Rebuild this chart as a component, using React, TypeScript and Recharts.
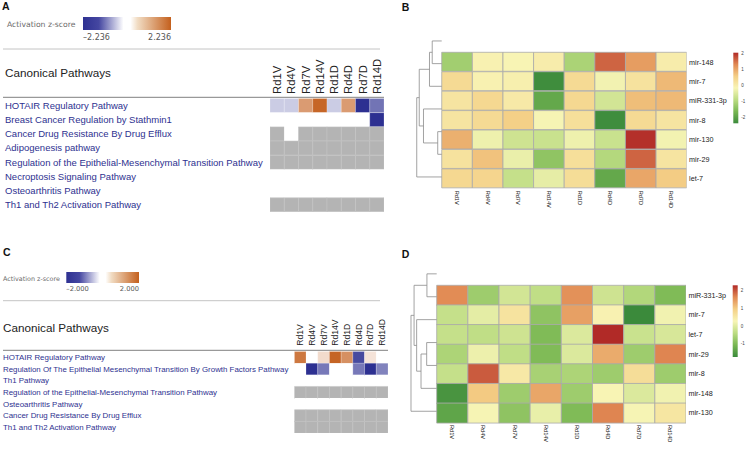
import React from "react";
import { BarChart, Bar, XAxis, YAxis, Cell, ReferenceLine } from "recharts";

const samples = ["Rd1V", "Rd4V", "Rd7V", "Rd14V", "Rd1D", "Rd4D", "Rd7D", "Rd14D"];
const sampleTicks = [0.5, 1.5, 2.5, 3.5, 4.5, 5.5, 6.5, 7.5];

// IPA panels: number = activation z-score, null = not significant, NA = no activity pattern (grey)
const NA = "NA";

const aPathways = [
  "HOTAIR Regulatory Pathway",
  "Breast Cancer Regulation by Stathmin1",
  "Cancer Drug Resistance By Drug Efflux",
  "Adipogenesis pathway",
  "Regulation of the Epithelial-Mesenchymal Transition Pathway",
  "Necroptosis Signaling Pathway",
  "Osteoarthritis Pathway",
  "Th1 and Th2 Activation Pathway",
];
const aZ = [
  [-0.55, -0.55, 1.4, 2.15, -0.55, 1.4, -2.236, -1.5],
  [null, null, null, null, null, null, null, -2.236],
  [NA, null, NA, NA, NA, NA, NA, NA],
  [NA, NA, NA, NA, NA, NA, NA, NA],
  [NA, NA, NA, NA, NA, NA, NA, NA],
  [null, null, null, null, null, null, null, null],
  [null, null, null, null, null, null, null, null],
  [NA, NA, NA, NA, NA, NA, NA, NA],
];

const cPathways = [
  "HOTAIR Regulatory Pathway",
  "Regulation Of The Epithelial Mesenchymal Transition By Growth Factors Pathway",
  "Th1 Pathway",
  "Regulation of the Epithelial-Mesenchymal Transition Pathway",
  "Osteoarthritis Pathway",
  "Cancer Drug Resistance By Drug Efflux",
  "Th1 and Th2 Activation Pathway",
];
const cZ = [
  [1.7, null, 0.45, 1.95, 1.4, -1.75, 0.35, null],
  [null, -2.0, -1.3, null, null, -1.3, -2.0, -1.2],
  [null, null, null, null, null, null, null, null],
  [NA, NA, NA, NA, NA, NA, NA, NA],
  [null, null, null, null, null, null, null, null],
  [NA, NA, NA, NA, NA, NA, NA, NA],
  [NA, NA, NA, NA, NA, NA, NA, NA],
];

// miRNA heatmaps (scaled expression); tree = [child, child, merge height], merge k gets id rows + k
const bMirs = ["mir-148", "mir-7", "miR-331-3p", "mir-8", "mir-130", "mir-29", "let-7"];
const bExpr = [
  [-1.2, -0.1, -0.15, 0.0, -1.1, 1.6, 1.1, 0.0],
  [0.35, -0.1, -0.05, -2.35, 0.35, -0.25, 0.2, 0.8],
  [0.15, 0.4, 0.05, -1.9, 0.4, -0.65, 0.75, 0.8],
  [0.15, 0.35, 0.55, -0.2, 0.25, -2.35, 0.35, 0.15],
  [0.9, -0.3, -0.7, -0.75, -0.3, -0.75, 2.0, -0.25],
  [0.2, 0.7, -0.35, -1.4, 0.25, -1.0, 1.6, 0.15],
  [0.4, 0.45, -0.8, -0.4, 0.3, -1.9, 1.0, 0.6],
];
const bTree = [[1, 2, 0.16], [7, 3, 0.73], [5, 6, 0.38], [4, 9, 0.49], [8, 10, 0.9], [0, 11, 1]];

const dMirs = ["miR-331-3p", "mir-7", "let-7", "mir-29", "mir-8", "mir-148", "mir-130"];
const dExpr = [
  [1.6, -0.7, -0.15, -0.35, 1.55, -0.2, -0.5, -1.0],
  [-0.3, 0.05, 0.6, -0.85, 1.4, 0.35, -1.75, 0.2],
  [-0.3, -0.35, -0.2, -1.0, -0.05, 2.3, -0.25, -0.1],
  [-0.55, 0.15, -0.35, -1.0, -0.05, 1.3, -0.7, 1.65],
  [-0.3, 1.95, 0.5, -0.6, -0.55, -0.7, 0.7, -0.7],
  [-1.6, 1.0, -0.7, 1.35, -0.7, 0.3, -0.05, 0.2],
  [-1.35, 0.25, -0.85, 0.1, -1.0, 1.65, 0.25, 0.55],
];
const dTree = [[2, 3, 0.39], [1, 7, 0.61], [8, 4, 0.78], [5, 6, 0.38], [9, 10, 0.88], [0, 11, 1]];

const heatStops = ["#3b8a3b", "#78b752", "#bcdc82", "#f8f5b6", "#f4cf86", "#e18953", "#b12a27"];
const ipaStops: [number, string][] = [
  [0, "#2e3192"], [0.18, "#4547a1"], [0.46, "#ffffff"], [0.54, "#ffffff"], [0.62, "#f1dcc3"], [1, "#c4601d"],
];

const LABEL_BLUE = "#2e3190";
const SANS = "'Liberation Sans', Arial, sans-serif";
const WIDE = "'DejaVu Sans', Verdana, sans-serif";

function rgb(h: string) {
  return [1, 3, 5].map((i) => parseInt(h.slice(i, i + 2), 16));
}
function mix(a: number[], b: number[], t: number) {
  const c = a.map((v, i) => Math.round(v + (b[i] - v) * t));
  return `rgb(${c[0]},${c[1]},${c[2]})`;
}
function heatColor(v: number, lo: number, hi: number) {
  const t = Math.max(0, Math.min(1, (v - lo) / (hi - lo))) * (heatStops.length - 1);
  const i = Math.min(heatStops.length - 2, Math.floor(t));
  return mix(rgb(heatStops[i]), rgb(heatStops[i + 1]), t - i);
}
function ipaColor(v: any, max: number) {
  if (v === null) return "#ffffff";
  if (v === NA) return "#b4b4b4";
  const t = Math.min(1, Math.abs(v) / max);
  return mix([255, 255, 255], v < 0 ? [45, 48, 145] : [196, 96, 30], t);
}

function gridRows(names: string[]) {
  return names.map((name) => {
    const row: any = { name };
    samples.forEach((s) => (row[s] = 1));
    return row;
  });
}

function ColLabel({ x, y, payload, size, angle }: any) {
  return (
    <text x={x} y={y} dy="0.35em" transform={`rotate(${angle} ${x} ${y})`} textAnchor="start"
      fontSize={size} fill="#222" fontFamily={SANS}>
      {samples[Math.floor(payload.value)]}
    </text>
  );
}

function PathLabel({ y, payload, left, size }: any) {
  return (
    <text x={left} y={y} dy="0.35em" fontSize={size} fill={LABEL_BLUE} fontFamily={SANS}>
      {payload.value}
    </text>
  );
}

function IpaHeatmap({ pathways, scores, max, width, height, top, labelWidth, labelLeft, labelSize, colSize, colMargin }: any) {
  return (
    <BarChart width={width} height={height} layout="vertical" data={gridRows(pathways)}
      margin={{ top, right: 0, bottom: 0, left: 0 }} barCategoryGap={0} barGap={0}>
      <XAxis type="number" orientation="top" domain={[0, 8]} allowDataOverflow ticks={sampleTicks} interval={0}
        height={40} tickSize={0} tickMargin={colMargin} axisLine={false} tickLine={false}
        tick={(p: any) => <ColLabel {...p} size={colSize} angle={-90} />} />
      <YAxis yAxisId="c" type="category" dataKey="name" width={labelWidth} axisLine={false} tickLine={false}
        interval={0} tick={(p: any) => <PathLabel {...p} left={labelLeft} size={labelSize} />} />
      {samples.map((s, j) => (
        <Bar key={s} dataKey={s} stackId="z" yAxisId="c" isAnimationActive={false}>
          {scores.map((row: any[], i: number) => {
            const v = row[j];
            return (
              <Cell key={i} fill={ipaColor(v, max)}
                stroke={v === null ? "none" : v === NA ? "#c4c4c4" : "rgba(255,255,255,0.35)"} strokeWidth={0.6} />
            );
          })}
        </Bar>
      ))}
    </BarChart>
  );
}

function dendroSegments(tree: number[][], n: number, w: number) {
  const pos: number[] = [];
  const ht: number[] = [];
  for (let i = 0; i < n; i++) {
    pos[i] = i + 0.5;
    ht[i] = 0;
  }
  const segs: { x: number; y: number }[][] = [];
  tree.forEach(([a, b, h], k) => {
    pos[n + k] = (pos[a] + pos[b]) / 2;
    ht[n + k] = h;
    segs.push([{ x: -h * w, y: pos[a] }, { x: -h * w, y: pos[b] }]);
    segs.push([{ x: -ht[a] * w, y: pos[a] }, { x: -h * w, y: pos[a] }]);
    segs.push([{ x: -ht[b] * w, y: pos[b] }, { x: -h * w, y: pos[b] }]);
  });
  return segs;
}

function ExprHeatmap({ mirs, expr, tree, lo, hi, dendro, pad, width, height, margin, rowWidth, xHeight, colMargin }: any) {
  const segs = dendroSegments(tree, mirs.length, dendro);
  return (
    <BarChart width={width} height={height} layout="vertical" data={gridRows(mirs)}
      margin={margin} barCategoryGap={0} barGap={0}>
      <XAxis type="number" domain={[-(dendro + pad), 8]} allowDataOverflow ticks={sampleTicks} interval={0}
        height={xHeight} tickSize={0} tickMargin={colMargin} axisLine={false} tickLine={false}
        tick={(p: any) => <ColLabel {...p} size={5.6} angle={90} />} />
      <YAxis yAxisId="c" type="category" dataKey="name" orientation="right" width={rowWidth} axisLine={false}
        tickLine={false} tickSize={0} tickMargin={2.4} interval={0}
        tick={{ fontSize: 7.2, fill: "#222", fontFamily: SANS }} />
      <YAxis yAxisId="d" type="number" domain={[0, mirs.length]} allowDataOverflow reversed hide />
      {samples.map((s, j) => (
        <Bar key={s} dataKey={s} stackId="z" yAxisId="c" isAnimationActive={false}>
          {expr.map((row: number[], i: number) => (
            <Cell key={i} fill={heatColor(row[j], lo, hi)} stroke="#a9a9a9" strokeWidth={0.8} />
          ))}
        </Bar>
      ))}
      {segs.map((sg, i) => (
        <ReferenceLine key={i} yAxisId="d" segment={sg} stroke="#8c8c8c" strokeWidth={0.8} ifOverflow="visible" />
      ))}
    </BarChart>
  );
}

function HeatLegend({ id, x, y, h, lo, hi, ticks }: any) {
  return (
    <g>
      <defs>
        <linearGradient id={id} x1="0" y1="1" x2="0" y2="0">
          {heatStops.map((c, i) => (
            <stop key={i} offset={i / (heatStops.length - 1)} stopColor={c} />
          ))}
        </linearGradient>
      </defs>
      <rect x={x} y={y} width={5} height={h} fill={`url(#${id})`} />
      {ticks.map((t: number) => (
        <text key={t} x={x + 8} y={y + ((hi - t) / (hi - lo)) * h} dy="0.35em" fontSize={4.5} fill="#444"
          fontFamily={SANS}>
          {t}
        </text>
      ))}
    </g>
  );
}

function IpaLegend({ id, x, y, w, h, max, digits, textY, size, titleX, titleY, titleSize }: any) {
  return (
    <g>
      <defs>
        <linearGradient id={id} x1="0" y1="0" x2="1" y2="0">
          {ipaStops.map(([o, c], i) => (
            <stop key={i} offset={o} stopColor={c} />
          ))}
        </linearGradient>
      </defs>
      <text x={titleX} y={titleY} fontSize={titleSize} fill="#6b6b6b" fontFamily={WIDE}>Activation z-score</text>
      <rect x={x} y={y} width={w} height={h} fill={`url(#${id})`} />
      <text x={x} y={textY} fontSize={size} fill="#555" fontFamily={WIDE}>{"\u2013" + max.toFixed(digits)}</text>
      <text x={x + w} y={textY} fontSize={size} fill="#555" fontFamily={WIDE} textAnchor="end">{max.toFixed(digits)}</text>
    </g>
  );
}

export default function App() {
  return (
    <div style={{ position: "fixed", left: 0, top: 0, width: 747, height: 450, background: "#fff", fontFamily: SANS }}>
      <svg width={747} height={450} style={{ position: "absolute", left: 0, top: 0 }}>
        <g fontFamily={SANS} fontWeight="bold" fontSize={10.5} fill="#111">
          <text x={2} y={10.3}>A</text>
          <text x={401.7} y={10.7}>B</text>
          <text x={3} y={256.3}>C</text>
          <text x={401.7} y={258}>D</text>
        </g>
        <IpaLegend id="ipaA" x={83} y={17} w={88} h={13} max={2.236} digits={3} textY={40} size={8}
          titleX={7} titleY={26.5} titleSize={7.7} />
        <line x1={3} x2={380} y1={49} y2={49} stroke="#c4c4c4" />
        <text x={5} y={77.2} fontSize={11.7} fill="#222">Canonical Pathways</text>
        <line x1={3} x2={384} y1={97.3} y2={97.3} stroke="#808080" />

        <IpaLegend id="ipaC" x={66.3} y={272} w={72.7} h={11} max={2} digits={3} textY={291} size={6.7}
          titleX={3} titleY={281} titleSize={6.4} />
        <line x1={3} x2={380} y1={300.7} y2={300.7} stroke="#c4c4c4" />
        <text x={3} y={331.9} fontSize={11.7} fill="#222">Canonical Pathways</text>
        <line x1={3} x2={388} y1={350.3} y2={350.3} stroke="#808080" />

        <HeatLegend id="heatB" x={733.3} y={52.7} h={70.6} lo={-2.4} hi={2.05} ticks={[2, 1, 0, -1, -2]} />
        <HeatLegend id="heatD" x={732.7} y={285.3} h={71.7} lo={-1.75} hi={2.3} ticks={[2, 1, 0, -1]} />
      </svg>

      <div style={{ position: "absolute", left: 0, top: 0 }}>
        <IpaHeatmap pathways={aPathways} scores={aZ} max={2.236} width={384} height={212} top={58.5}
          labelWidth={270} labelLeft={5} labelSize={9.5} colSize={11.3} colMargin={4.5} />
      </div>
      <div style={{ position: "absolute", left: 0, top: 228 }}>
        <IpaHeatmap pathways={cPathways} scores={cZ} max={2} width={388} height={205} top={83.5}
          labelWidth={294.3} labelLeft={3} labelSize={7.9} colSize={8.6} colMargin={5.8} />
      </div>
      <div style={{ position: "absolute", left: 380, top: 0 }}>
        <ExprHeatmap mirs={bMirs} expr={bExpr} tree={bTree} lo={-2.4} hi={2.05} dendro={0.816} pad={0.034}
          width={367} height={225} margin={{ top: 52.3, right: 0, bottom: 6.7, left: 35.7 }} rowWidth={60.3}
          xHeight={30} colMargin={2.4} />
      </div>
      <div style={{ position: "absolute", left: 380, top: 228 }}>
        <ExprHeatmap mirs={dMirs} expr={dExpr} tree={dTree} lo={-1.75} hi={2.3} dendro={0.825} pad={0.035}
          width={367} height={222} margin={{ top: 57.3, right: 0, bottom: 5.3, left: 29.9 }} rowWidth={61}
          xHeight={22} colMargin={2.3} />
      </div>
    </div>
  );
}
